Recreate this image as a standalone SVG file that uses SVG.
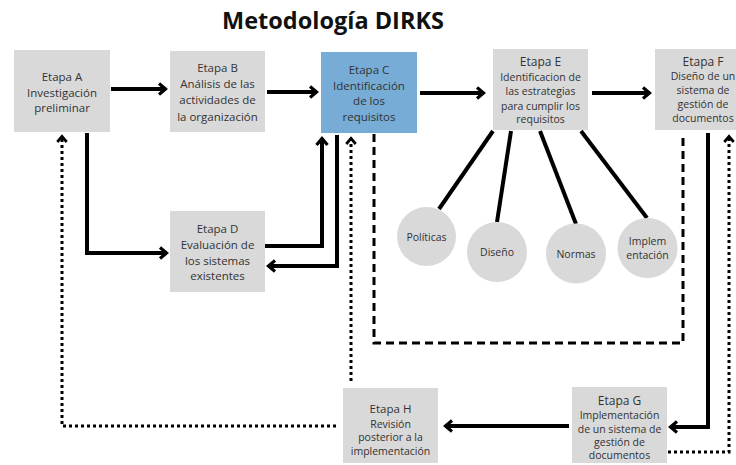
<svg xmlns="http://www.w3.org/2000/svg" width="736" height="465" viewBox="0 0 736 465">
  <style>
    .box { fill: #d9d9d9; }
    .boxc { fill: #76acd6; }
    .t { font-family: "Open Sans", "Liberation Sans", sans-serif; font-size: 11.5px; fill: #333; text-anchor: middle; }
    .h { font-size: 12px; }
    .s { font-size: 10.5px; }
    .title { font-family: "Open Sans", "Liberation Sans", sans-serif; font-size: 23.5px; font-weight: bold; fill: #111; text-anchor: middle; }
    .solid { fill: none; stroke: #000; stroke-width: 4; }
    .dot { fill: none; stroke: #000; stroke-width: 3; stroke-dasharray: 3 3; }
    .dash { fill: none; stroke: #000; stroke-width: 3; stroke-dasharray: 8 5; }
    .spoke { stroke: #000; stroke-width: 4; }
  </style>
  <defs>
    <marker id="arrow" viewBox="0 0 14 14" markerWidth="14" markerHeight="14" markerUnits="userSpaceOnUse" refX="11" refY="7" orient="auto">
      <path d="M4,1.5 L10.5,7 L4,12.5" fill="none" stroke="#000" stroke-width="3.2" stroke-dasharray="none"/>
    </marker>
    <marker id="arrowSm" viewBox="0 0 14 14" markerWidth="12" markerHeight="12" markerUnits="userSpaceOnUse" refX="11" refY="7" orient="auto">
      <path d="M4,1.5 L10.5,7 L4,12.5" fill="none" stroke="#000" stroke-width="3.2" stroke-dasharray="none"/>
    </marker>
  </defs>

  <rect width="736" height="465" fill="#fff"/>

  <text class="title" x="333" y="29">Metodología DIRKS</text>

  <!-- connectors -->
  <g id="connectors">
    <path class="solid" d="M111,89 H166" marker-end="url(#arrow)"/>
    <path class="solid" d="M267,92 H317" marker-end="url(#arrow)"/>
    <path class="solid" d="M420,93 H484" marker-end="url(#arrow)"/>
    <path class="solid" d="M592,93 H650" marker-end="url(#arrow)"/>
    <path class="solid" d="M87,133 V253 H167" marker-end="url(#arrow)"/>
    <path class="solid" d="M265,246 H322 V138" marker-end="url(#arrow)"/>
    <path class="solid" d="M337,135 V266 H268" marker-end="url(#arrow)"/>
    <path class="solid" d="M708,133 V427 H670" marker-end="url(#arrow)"/>
    <path class="solid" d="M569,426 H445" marker-end="url(#arrow)"/>
    <path class="dot" d="M351,381 V138" marker-end="url(#arrowSm)"/>
    <path class="dot" d="M668,452 H729 V136" marker-end="url(#arrowSm)"/>
    <path class="dot" d="M336,426 H62 V136" marker-end="url(#arrowSm)"/>
    <path class="dash" d="M374,134 V343 H683 V134"/>
    <line class="spoke" x1="493" y1="131" x2="439" y2="209"/>
    <line class="spoke" x1="511" y1="131" x2="497" y2="222"/>
    <line class="spoke" x1="540" y1="131" x2="576" y2="224"/>
    <line class="spoke" x1="581" y1="131" x2="647" y2="218"/>
  </g>

  <g id="etapa-a">
    <rect class="box" x="14" y="50" width="96" height="82"/>
    <text class="t" x="62" y="81">Etapa A</text>
    <text class="t" x="62" y="96.5">Investigación</text>
    <text class="t" x="62" y="112">preliminar</text>
  </g>

  <g id="etapa-b">
    <rect class="box" x="170" y="51" width="95" height="81"/>
    <text class="t" x="217.5" y="72">Etapa B</text>
    <text class="t" x="217.5" y="88">Análisis de las</text>
    <text class="t" x="217.5" y="104">actividades de</text>
    <text class="t" x="217.5" y="120.5">la organización</text>
  </g>

  <g id="etapa-c">
    <rect class="boxc" x="321" y="52" width="96" height="81"/>
    <text class="t" x="369" y="74">Etapa C</text>
    <text class="t" x="369" y="89.5">Identificación</text>
    <text class="t" x="369" y="105">de los</text>
    <text class="t" x="369" y="120.5">requisitos</text>
  </g>

  <g id="etapa-d">
    <rect class="box" x="170" y="211" width="95" height="81"/>
    <text class="t" x="217.5" y="233">Etapa D</text>
    <text class="t" x="217.5" y="249">Evaluación de</text>
    <text class="t" x="217.5" y="265">los sistemas</text>
    <text class="t" x="217.5" y="280">existentes</text>
  </g>

  <g id="etapa-e">
    <rect class="box" x="493" y="49" width="95" height="81"/>
    <text class="t h" x="540.5" y="66">Etapa E</text>
    <text class="t s" x="540.5" y="81">Identificacion de</text>
    <text class="t s" x="540.5" y="95">las estrategias</text>
    <text class="t s" x="540.5" y="110">para cumplir los</text>
    <text class="t s" x="540.5" y="123">requisitos</text>
  </g>

  <g id="etapa-f">
    <rect class="box" x="655" y="49" width="96" height="81"/>
    <text class="t h" x="703" y="66">Etapa F</text>
    <text class="t s" x="703" y="80">Diseño de un</text>
    <text class="t s" x="703" y="94">sistema de</text>
    <text class="t s" x="703" y="108">gestión de</text>
    <text class="t s" x="703" y="122">documentos</text>
  </g>

  <g id="etapa-g">
    <rect class="box" x="572" y="387" width="95" height="76"/>
    <text class="t h" x="619.5" y="404.5">Etapa G</text>
    <text class="t s" x="619.5" y="419">Implementación</text>
    <text class="t s" x="619.5" y="433">de un sistema de</text>
    <text class="t s" x="619.5" y="446">gestión de</text>
    <text class="t s" x="619.5" y="459">documentos</text>
  </g>

  <g id="etapa-h">
    <rect class="box" x="343" y="388" width="95" height="75"/>
    <text class="t" x="390.5" y="413">Etapa H</text>
    <text class="t s" x="390.5" y="427.5">Revisión</text>
    <text class="t s" x="390.5" y="441">posterior a la</text>
    <text class="t s" x="390.5" y="455">implementación</text>
  </g>

  <g id="politicas">
    <circle class="box" cx="426.5" cy="236.5" r="29.5"/>
    <text class="t s" x="426.5" y="240.5">Políticas</text>
  </g>

  <g id="diseno">
    <circle class="box" cx="497" cy="252" r="30"/>
    <text class="t s" x="497" y="256">Diseño</text>
  </g>

  <g id="normas">
    <circle class="box" cx="576" cy="253.5" r="30"/>
    <text class="t s" x="576" y="257.5">Normas</text>
  </g>

  <g id="implementacion">
    <circle class="box" cx="647.5" cy="248" r="30"/>
    <text class="t s" x="647.5" y="244.5">Implem</text>
    <text class="t s" x="647.5" y="258.5">entación</text>
  </g>
</svg>
